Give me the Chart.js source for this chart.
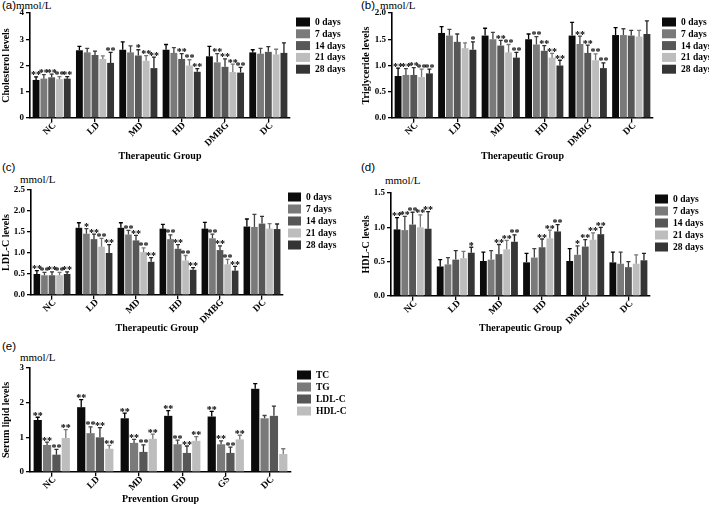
<!DOCTYPE html>
<html>
<head>
<meta charset="utf-8">
<script src="https://cdn.jsdelivr.net/npm/chart.js@4.4.1/dist/chart.umd.min.js"></script>
<style>
  html,body{margin:0;padding:0;background:#fff;}
  #wrap{position:relative;width:709px;height:508px;background:#fff;overflow:hidden;}
  canvas{position:absolute;}
  .pl{position:absolute;font-family:'Liberation Sans',Arial,sans-serif;font-size:11.5px;color:#000;line-height:1;}
  .un{position:absolute;font-family:'Liberation Serif','Times New Roman',serif;font-size:11px;color:#000;line-height:1;}
  .xa{position:absolute;width:0;height:0;}
  .xa span{position:absolute;right:0;top:0;white-space:nowrap;font-family:'Liberation Serif','Times New Roman',serif;
           font-weight:bold;font-size:9.5px;line-height:1;color:#000;transform-origin:100% 50%;
           transform:translateY(-50%) rotate(-45deg);}
</style>
</head>
<body>
<div id="wrap">
  <div class="pl" style="left:2px;top:0px;">(a)</div>
  <div class="un" style="left:16px;top:0px;">mmol/L</div>
  <div class="pl" style="left:361px;top:0px;">(b)</div>
  <div class="un" style="left:380px;top:0px;">mmol/L</div>
  <div class="pl" style="left:2px;top:162px;">(c)</div>
  <div class="un" style="left:20px;top:174px;">mmol/L</div>
  <div class="pl" style="left:361px;top:162px;">(d)</div>
  <div class="un" style="left:385px;top:175px;">mmol/L</div>
  <div class="pl" style="left:2px;top:341px;">(e)</div>
  <div class="un" style="left:20px;top:352px;">mmol/L</div>
  <canvas id="ca" width="355" height="165" style="left:0;top:0;"></canvas>
  <canvas id="cb" width="349" height="165" style="left:360px;top:0;"></canvas>
  <canvas id="cc" width="355" height="172" style="left:0;top:165px;"></canvas>
  <canvas id="cd" width="349" height="172" style="left:360px;top:165px;"></canvas>
  <canvas id="ce" width="355" height="178" style="left:0;top:330px;"></canvas>
</div>
<script>
// ---------- categories & series ----------
const therapeuticGroups = ['NC','LD','MD','HD','DMBG','DC'];
const preventionGroups  = ['NC','LD','MD','HD','GS','DC'];
const daySeries   = ['0 days','7 days','14 days','21 days','28 days'];
const lipidSeries = ['TC','TG','LDL-C','HDL-C'];

// ---------- (a) cholesterol ----------
const cholMean = [
  [1.45,2.58,2.60,2.60,2.35,2.50],
  [1.50,2.50,2.50,2.48,2.12,2.45],
  [1.55,2.40,2.38,2.25,1.95,2.52],
  [1.48,2.25,2.18,2.00,1.75,2.42],
  [1.50,2.10,1.90,1.76,1.73,2.48]
];
const cholErr = [
  [0.12,0.15,0.30,0.20,0.38,0.10],
  [0.15,0.15,0.25,0.20,0.33,0.20],
  [0.12,0.15,0.22,0.20,0.30,0.20],
  [0.10,0.12,0.20,0.22,0.30,0.20],
  [0.08,0.40,0.42,0.12,0.20,0.38]
];
const cholStars = [
  ['**','','','','',''],
  ['**','','','','**',''],
  ['**','','*','**','**',''],
  ['**','','**','**','**',''],
  ['**','**','**','**','**','']
];
const cholTicks = [0,1,2,3,4];

// ---------- (b) triglyceride ----------
const trigMean = [
  [0.80,1.62,1.57,1.50,1.57,1.58],
  [0.82,1.57,1.50,1.40,1.41,1.58],
  [0.82,1.45,1.38,1.28,1.24,1.57],
  [0.78,1.33,1.25,1.15,1.10,1.55],
  [0.85,1.30,1.15,1.00,0.95,1.60]
];
const trigErr = [
  [0.15,0.12,0.14,0.10,0.25,0.14],
  [0.12,0.12,0.13,0.15,0.15,0.12],
  [0.14,0.15,0.10,0.10,0.15,0.10],
  [0.15,0.10,0.15,0.08,0.12,0.12],
  [0.08,0.15,0.10,0.10,0.10,0.25]
];
const trigStars = [
  ['**','','','','',''],
  ['**','','','**','**',''],
  ['**','','**','**','**',''],
  ['**','','**','**','**',''],
  ['**','*','**','**','**','']
];
const trigTicks = [0,0.5,1.0,1.5,2.0];

// ---------- (c) LDL-C ----------
const ldlMean = [
  [0.50,1.60,1.60,1.58,1.58,1.63],
  [0.47,1.46,1.44,1.33,1.35,1.62],
  [0.47,1.33,1.30,1.10,1.07,1.70],
  [0.47,1.15,1.02,0.82,0.73,1.58],
  [0.50,1.00,0.79,0.60,0.58,1.57]
];
const ldlErr = [
  [0.08,0.12,0.12,0.10,0.15,0.18],
  [0.07,0.12,0.10,0.10,0.10,0.30],
  [0.08,0.12,0.12,0.10,0.10,0.17],
  [0.07,0.20,0.10,0.12,0.12,0.12],
  [0.05,0.20,0.10,0.05,0.10,0.12]
];
const ldlStars = [
  ['**','','','','',''],
  ['**','*','**','**','**',''],
  ['**','**','**','**','**',''],
  ['**','**','**','**','**',''],
  ['**','**','**','**','**','']
];
const ldlTicks = [0,0.5,1.0,1.5,2.0,2.5];

// ---------- (d) HDL-C ----------
const hdlMean = [
  [0.97,0.43,0.51,0.49,0.51,0.49],
  [0.96,0.46,0.53,0.56,0.60,0.47],
  [1.04,0.53,0.61,0.71,0.72,0.42],
  [1.00,0.55,0.68,0.84,0.82,0.47],
  [0.98,0.63,0.79,0.94,0.90,0.52]
];
const hdlErr = [
  [0.17,0.10,0.13,0.13,0.18,0.15],
  [0.20,0.10,0.13,0.13,0.13,0.17],
  [0.18,0.13,0.14,0.12,0.10,0.08],
  [0.18,0.10,0.13,0.12,0.10,0.13],
  [0.25,0.08,0.10,0.10,0.10,0.10]
];
const hdlStars = [
  ['**','','','','',''],
  ['**','','','','*',''],
  ['**','','**','**','**',''],
  ['**','','**','**','**',''],
  ['**','*','**','**','**','']
];
const hdlTicks = [0,0.5,1.0,1.5];

// ---------- (e) prevention serum lipids ----------
const prevMean = [
  [1.50,1.87,1.55,1.62,1.60,2.40],
  [0.78,1.12,0.84,0.80,0.80,1.55],
  [0.50,1.00,0.58,0.55,0.55,1.62],
  [0.98,0.67,0.96,0.90,0.94,0.52]
];
const prevErr = [
  [0.08,0.22,0.15,0.15,0.15,0.15],
  [0.08,0.18,0.10,0.12,0.10,0.08],
  [0.15,0.28,0.20,0.20,0.17,0.28],
  [0.24,0.10,0.13,0.12,0.12,0.15]
];
const prevStars = [
  ['**','**','**','**','**',''],
  ['**','**','**','**','**',''],
  ['**','**','**','**','**',''],
  ['**','**','**','**','**','']
];
const prevTicks = [0,1,2,3];

// ---------- styles ----------
const dayColors = ['#0b0b0b','#7a7a7a','#575757','#bdbdbd','#353535'];
const dayErrColors = ['#000','#444','#333','#777','#222'];
const lipidColors = ['#0b0b0b','#7a7a7a','#575757','#bdbdbd'];
const lipidErrColors = ['#000','#444','#333','#777'];
const SERIF = "'Liberation Serif','Times New Roman',serif";

const errPlugin = {
  id: 'errs',
  afterDatasetsDraw(chart) {
    const ctx = chart.ctx, ys = chart.scales.y;
    chart.data.datasets.forEach((ds, i) => {
      const meta = chart.getDatasetMeta(i);
      meta.data.forEach((bar, j) => {
        const top = ys.getPixelForValue(ds.data[j] + ds.errors[j]);
        const cap = Math.max(2, bar.width * 0.25);
        ctx.save();
        ctx.strokeStyle = ds.errColor;
        ctx.lineWidth = 1.3;
        ctx.beginPath();
        ctx.moveTo(bar.x, bar.y);
        ctx.lineTo(bar.x, top);
        ctx.moveTo(bar.x - cap, top);
        ctx.lineTo(bar.x + cap, top);
        ctx.stroke();
        if (ds.stars[j]) {
          ctx.fillStyle = '#000';
          ctx.font = 'bold 10px ' + SERIF;
          ctx.textAlign = 'center';
          ctx.textBaseline = 'alphabetic';
          ctx.fillText(ds.stars[j], bar.x, top + 1.5);
        }
        ctx.restore();
      });
    });
  }
};

// rotated (45°) category labels placed at the x scale's tick positions
const rotLabels = {
  id: 'rotLabels',
  afterDraw(chart) {
    if (chart._xLabelsDone) return;
    chart._xLabelsDone = true;
    const xs = chart.scales.x, cv = chart.canvas;
    const left = parseFloat(cv.style.left) || 0, top = parseFloat(cv.style.top) || 0;
    const wrap = document.getElementById('wrap');
    chart.data.labels.forEach((l, i) => {
      const a = document.createElement('div');
      a.className = 'xa';
      a.style.left = (left + xs.getPixelForTick(i) + 3) + 'px';
      a.style.top = (top + xs.top + 6) + 'px';
      const s = document.createElement('span');
      s.textContent = l;
      a.appendChild(s);
      wrap.appendChild(a);
    });
  }
};

const sideLegend = {
  id: 'sideLegend',
  afterDraw(chart, args, o) {
    const ctx = chart.ctx;
    ctx.save();
    chart.data.datasets.forEach((ds, i) => {
      const yc = o.y + i * o.dy;
      ctx.fillStyle = ds.backgroundColor;
      ctx.fillRect(o.x, yc - 4.5, o.w, 9);
      ctx.fillStyle = '#000';
      ctx.font = 'bold 9.5px ' + SERIF;
      ctx.textAlign = 'left';
      ctx.textBaseline = 'middle';
      ctx.fillText(ds.label, o.x + o.w + o.gap, yc + 0.5);
    });
    ctx.restore();
  }
};

function makeChart(id, labels, names, means, errs, stars, colors, errColors, ticks, yTitle, xTitle, g) {
  const datasets = names.map((n, i) => ({
    label: n,
    data: means[i],
    errors: errs[i],
    stars: stars[i],
    errColor: errColors[i],
    backgroundColor: colors[i],
    borderWidth: 0,
    categoryPercentage: g.cat,
    barPercentage: 0.88
  }));
  const el = document.getElementById(id);
  return new Chart(el, {
    type: 'bar',
    data: { labels, datasets },
    plugins: [errPlugin, rotLabels, sideLegend],
    options: {
      responsive: false,
      animation: false,
      devicePixelRatio: 1,
      layout: { padding: { left: 0, top: g.top, right: el.width - g.right, bottom: 1 } },
      plugins: {
        legend: { display: false },
        tooltip: { enabled: false },
        sideLegend: { x: g.lx, y: g.ly, dy: g.ldy, w: g.lw, gap: 5 }
      },
      scales: {
        x: {
          grid: { display: true, drawOnChartArea: false, offset: false, tickLength: 4, color: '#000', lineWidth: 1.3 },
          border: { color: '#000', width: 1.6 },
          ticks: { display: false },
          title: { display: true, text: xTitle, color: '#000', padding: { top: 0, bottom: 2 },
                   font: { family: SERIF, size: 10, weight: 'bold' } },
          afterFit(s) { s.height = el.height - 1 - g.bottom; }
        },
        y: {
          min: 0, max: ticks[ticks.length - 1],
          afterBuildTicks(s) { s.ticks = ticks.map(v => ({ value: v })); },
          grid: { display: true, drawOnChartArea: false, tickLength: 4, color: '#000', lineWidth: 1.3 },
          border: { color: '#000', width: 1.6 },
          ticks: { color: '#000', padding: 2, font: { family: SERIF, size: 9, weight: 'bold' },
                   callback: v => g.dec ? v.toFixed(1) : String(v) },
          title: { display: true, text: yTitle, color: '#000', padding: { top: 0, bottom: 2 },
                   font: { family: SERIF, size: 10, weight: 'bold' } },
          afterFit(s) { s.width = g.axis; }
        }
      }
    }
  });
}

makeChart('ca', therapeuticGroups, daySeries, cholMean, cholErr, cholStars, dayColors, dayErrColors, cholTicks,
  'Cholesterol levels', 'Therapeutic Group',
  { top: 13, bottom: 118, right: 290, axis: 30, cat: 0.9, dec: false, lx: 296, ly: 22, ldy: 11.8, lw: 14 });
makeChart('cb', therapeuticGroups, daySeries, trigMean, trigErr, trigStars, dayColors, dayErrColors, trigTicks,
  'Triglyceride levels', 'Therapeutic Group',
  { top: 13, bottom: 118, right: 293, axis: 32, cat: 0.9, dec: true, lx: 302, ly: 22, ldy: 11.8, lw: 14 });
makeChart('cc', therapeuticGroups, daySeries, ldlMean, ldlErr, ldlStars, dayColors, dayErrColors, ldlTicks,
  'LDL-C levels', 'Therapeutic Group',
  { top: 25, bottom: 130, right: 283, axis: 31, cat: 0.9, dec: true, lx: 288, ly: 32, ldy: 12, lw: 13 });
makeChart('cd', therapeuticGroups, daySeries, hdlMean, hdlErr, hdlStars, dayColors, dayErrColors, hdlTicks,
  'HDL-C levels', 'Therapeutic Group',
  { top: 28, bottom: 131, right: 290, axis: 31, cat: 0.9, dec: true, lx: 295, ly: 34, ldy: 12, lw: 13 });
makeChart('ce', preventionGroups, lipidSeries, prevMean, prevErr, prevStars, lipidColors, lipidErrColors, prevTicks,
  'Serum lipid levels', 'Prevention Group',
  { top: 38, bottom: 142, right: 291, axis: 30, cat: 0.86, dec: false, lx: 297, ly: 45, ldy: 12, lw: 14 });
</script>
</body>
</html>
